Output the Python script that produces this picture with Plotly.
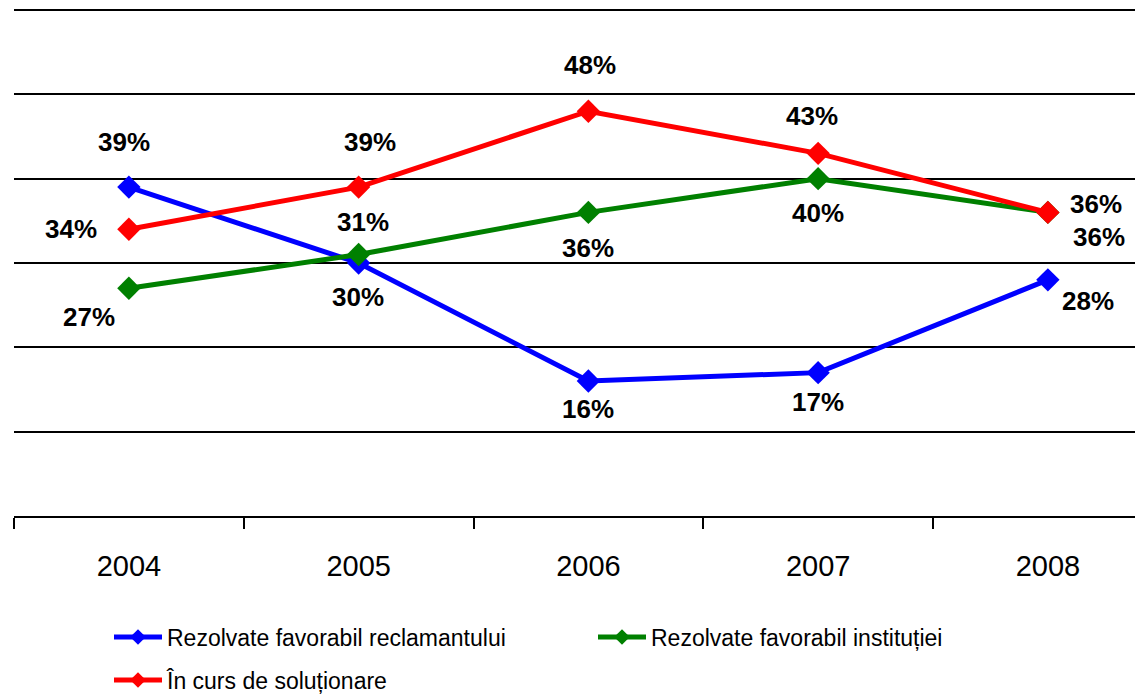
import plotly.graph_objects as go

years = ["2004", "2005", "2006", "2007", "2008"]
reclamant = [39, 30, 16, 17, 28]
institutie = [27, 31, 36, 40, 36]
in_curs = [34, 39, 48, 43, 36]

names = ["Rezolvate favorabil reclamantului", "Rezolvate favorabil instituției", "În curs de soluționare"]
colors = ["#0000FF", "#008000", "#FF0000"]

# label offsets (px) for each point
offsets = [
    [(-5, 45), (-1, -34), (0, -28), (0, -29), (40, -21)],
    [(-40, -29), (4, 33), (0, -36), (0, -34), (51, -25)],
    [(-58, 0), (11, 45), (2, 46), (-6, 37), (48, 8)],
]

FONT = "Arial, 'Liberation Sans', sans-serif"
fig = go.Figure()
series = [reclamant, institutie, in_curs]
legends = ["legend", "legend2", "legend3"]
for vals, name, col, lg in zip(series, names, colors, legends):
    fig.add_trace(go.Scatter(
        x=years, y=vals, name=name, mode="lines+markers",
        line=dict(color=col, width=5),
        marker=dict(symbol="diamond", size=18, color=col),
        legend=lg, cliponaxis=False,
    ))

annotations = []
for vals, offs in zip(series, offsets):
    for i, (v, (dx, dy)) in enumerate(zip(vals, offs)):
        annotations.append(dict(
            x=i, y=v, xref="x", yref="y", text=f"{v}%", showarrow=False,
            xshift=dx, yshift=dy,
            font=dict(family=FONT, size=26, color="black", weight="bold"),
        ))

# page body has an 8px margin: work in figure coordinates (screen - 8)
OFF = 8
W = 1143 - OFF
H = 700
L = 14 - OFF
T = 0
plot_bottom = 516 - OFF
B = H - plot_bottom
pw = W - L
ph = plot_bottom - T
px_per_unit = (516 - 10) / 60.0
ytop = 60 + (10 - OFF - T) / px_per_unit

def lx(sx):
    return (sx - OFF - L) / pw

def ly(sy):
    return (plot_bottom - (sy - OFF)) / ph

leg_common = dict(orientation="h", xanchor="left", yanchor="middle",
                  itemwidth=48, itemsizing="constant",
                  font=dict(family=FONT, size=23, color="black"),
                  bgcolor="rgba(0,0,0,0)", borderwidth=0)

fig.update_layout(
    width=W, height=H,
    margin=dict(l=L, r=0, t=T, b=B),
    plot_bgcolor="white", paper_bgcolor="white",
    showlegend=True,
    legend=dict(x=lx(109), y=ly(637), **leg_common),
    legend2=dict(x=lx(593), y=ly(637), **leg_common),
    legend3=dict(x=lx(109), y=ly(680), **leg_common),
    annotations=annotations,
    xaxis=dict(
        type="category", range=[-0.5, 4.414],
        showgrid=False, showline=True, linecolor="black", linewidth=2,
        ticks="outside", tickson="boundaries", ticklen=11, tickwidth=2, tickcolor="black",
        tickfont=dict(family=FONT, size=29, color="black"),
        ticklabelstandoff=23,
        zeroline=False,
    ),
    yaxis=dict(
        range=[0, ytop], showgrid=True, gridcolor="black", gridwidth=2,
        tick0=0, dtick=10, showticklabels=False, zeroline=False, showline=False, ticks="",
    ),
)

fig.write_html("out.html")
